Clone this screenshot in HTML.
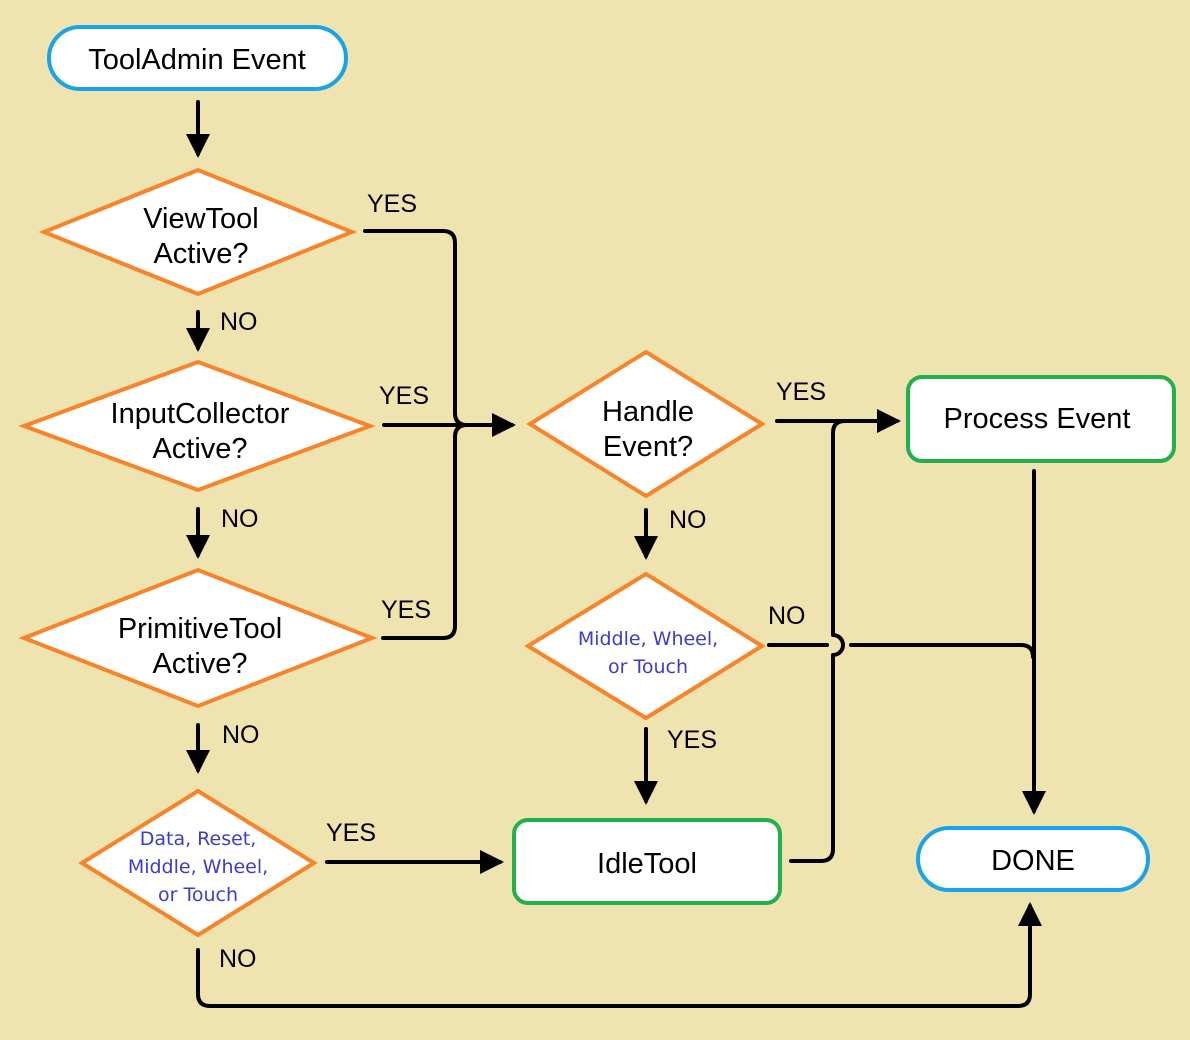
<!DOCTYPE html>
<html><head><meta charset="utf-8"><style>
html,body{margin:0;padding:0;background:#EFE3B0;}
svg{display:block}
text{font-family:"Liberation Sans",sans-serif;}
.t{font-size:29px;fill:#000;text-anchor:middle}
.l{font-size:25px;fill:#000}
.b{font-size:19px;fill:#3b3bd0;text-anchor:middle;font-family:"DejaVu Sans","Liberation Sans",sans-serif}
.d{fill:#fff;stroke:#F7832A;stroke-width:4}
.k{fill:none;stroke:#000;stroke-width:4;stroke-linecap:round;stroke-linejoin:round}
</style></head><body>
<svg width="1190" height="1040" viewBox="0 0 1190 1040" xmlns="http://www.w3.org/2000/svg">
<defs><marker id="a" markerWidth="6" markerHeight="6" refX="5" refY="3" orient="auto" markerUnits="strokeWidth"><path d="M0,0 L6,3 L0,6z" fill="#000"/></marker></defs>
<rect width="1190" height="1040" fill="#EFE3B0"/>
<rect x="49" y="27" width="297" height="62" rx="31" fill="#fff" stroke="#1AA3E8" stroke-width="4"/>
<text class="t" x="197" y="69">ToolAdmin Event</text>
<path class="k" d="M198 102 V154" marker-end="url(#a)"/>
<polygon class="d" points="44,232 198,170 352,232 198,294"/>
<text class="t" x="201" y="228">ViewTool</text><text class="t" x="201" y="263">Active?</text>
<path class="k" d="M198 312 V348" marker-end="url(#a)"/>
<text class="l" x="220" y="330">NO</text>
<polygon class="d" points="24,426 198,362 370,426 198,490"/>
<text class="t" x="200" y="423">InputCollector</text><text class="t" x="200" y="458">Active?</text>
<path class="k" d="M198 509 V555" marker-end="url(#a)"/>
<text class="l" x="221" y="527">NO</text>
<polygon class="d" points="24,638 198,570 372,638 198,706"/>
<text class="t" x="200" y="638">PrimitiveTool</text><text class="t" x="200" y="673">Active?</text>
<path class="k" d="M198 725 V770" marker-end="url(#a)"/>
<text class="l" x="222" y="743">NO</text>
<polygon class="d" points="82,863 198,791 314,863 198,935"/>
<text class="b" x="198" y="845">Data, Reset,</text><text class="b" x="198" y="873">Middle, Wheel,</text><text class="b" x="198" y="901">or Touch</text>
<text class="l" x="219" y="967">NO</text>
<path class="k" d="M198 950 V994 Q198 1006 210 1006 H1018 Q1030 1006 1030 994 V906" marker-end="url(#a)"/>
<text class="l" x="326" y="841">YES</text>
<path class="k" d="M327 862 H500" marker-end="url(#a)"/>
<text class="l" x="367" y="212">YES</text>
<text class="l" x="379" y="404">YES</text>
<text class="l" x="381" y="618">YES</text>
<path class="k" d="M365 231 H443 Q455 231 455 243 V413 Q455 425 467 425"/>
<path class="k" d="M383 638 H443 Q455 638 455 626 V437 Q455 425 467 425"/>
<path class="k" d="M384 425 H512" marker-end="url(#a)"/>
<polygon class="d" points="530,424 646,352 762,424 646,496"/>
<text class="t" x="648" y="421">Handle</text><text class="t" x="648" y="456">Event?</text>
<text class="l" x="776" y="400">YES</text>
<path class="k" d="M777 421 H897" marker-end="url(#a)"/>
<path class="k" d="M646 510 V556" marker-end="url(#a)"/>
<text class="l" x="669" y="528">NO</text>
<polygon class="d" points="528,646 646,574 762,646 646,718"/>
<text class="b" x="648" y="645">Middle, Wheel,</text><text class="b" x="648" y="673">or Touch</text>
<text class="l" x="667" y="748">YES</text>
<path class="k" d="M646 729 V801" marker-end="url(#a)"/>
<text class="l" x="768" y="624">NO</text>
<path class="k" d="M769 645 H827"/>
<path class="k" d="M851 645 H1021 Q1033 645 1033 657"/>
<rect x="514" y="820" width="266" height="83" rx="14" fill="#fff" stroke="#22B04B" stroke-width="4"/>
<text class="t" x="647" y="873">IdleTool</text>
<path class="k" d="M791 861 H821 Q833 861 833 849 V655 A10 10 0 0 0 833 635 V433 Q833 421 845 421"/>
<rect x="908" y="377" width="266" height="84" rx="14" fill="#fff" stroke="#22B04B" stroke-width="4"/>
<text class="t" x="1037" y="428">Process Event</text>
<path class="k" d="M1034 471 V811" marker-end="url(#a)"/>
<rect x="918" y="828" width="230" height="62" rx="31" fill="#fff" stroke="#1AA3E8" stroke-width="4"/>
<text class="t" x="1033" y="870">DONE</text>
</svg>
</body></html>
